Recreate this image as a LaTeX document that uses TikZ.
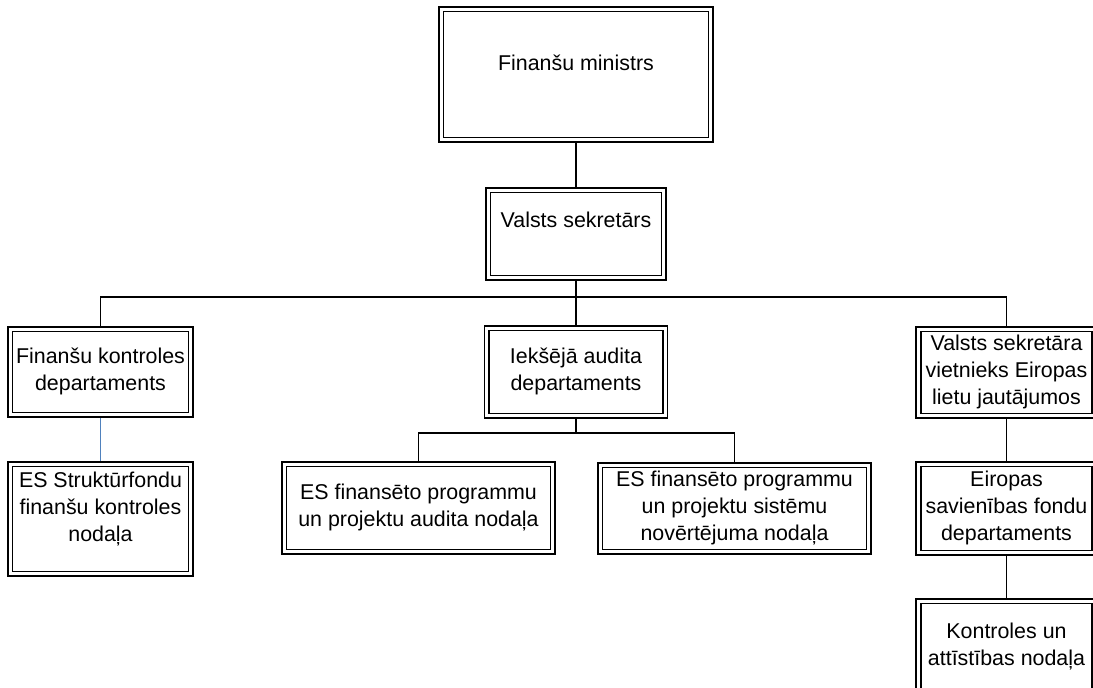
\documentclass[tikz,border=0pt]{standalone}
\usepackage{fontspec}
\setmainfont{Liberation Sans}
\usetikzlibrary{backgrounds}

\definecolor{linkblue}{RGB}{79,129,189}
\newcommand\boxfont{\fontsize{21.4}{27}\selectfont}
% box text: centred lines, optionally lifted towards the top of the box
\newcommand\boxtext[2][0pt]{\raisebox{#1}[\height][\depth]{\begin{tabular}{@{}c@{}}#2\end{tabular}}}

\tikzset{
  orgbox/.style 2 args={draw, double, double distance=2.8pt, line width=1.7pt,
    fill=white, inner sep=0pt, outer sep=0pt, font=\boxfont,
    minimum width=#1pt, minimum height=#2pt},
  conn/.style={draw=black, line width=1.6pt},
  blueconn/.style={draw=linkblue, line width=1.3pt}
}

\begin{document}
\begin{tikzpicture}[x=1pt, y=-1pt]
\useasboundingbox (0,0) rectangle (1093,688);

% top of the hierarchy
\node[orgbox={269.5}{130.5}] (min) at (576,74.5) {\boxtext[9pt]{Finanšu ministrs}};
\node[orgbox={175.5}{87.5}] (vs) at (576,234) {\boxtext[12pt]{Valsts sekretārs}};

% departments
\node[orgbox={180.5}{85.5}] (fkd) at (100.5,372) {\boxtext{Finanšu kontroles\\departaments}};
\node[orgbox={178.5}{87.5}] (iad) at (576,372) {\boxtext{Iekšējā audita\\departaments}};
\node[orgbox={176}{86.5}] (vsv) at (1006.5,372.5) {\boxtext{Valsts sekretāra\\vietnieks Eiropas\\lietu jautājumos}};

% units
\node[orgbox={180.5}{109.5}] (esf) at (100.5,519) {\boxtext[10pt]{ES Struktūrfondu\\finanšu kontroles\\nodaļa}};
\node[orgbox={268.5}{87.5}] (esa) at (418.5,508) {\boxtext{ES finansēto programmu\\un projektu audita nodaļa}};
\node[orgbox={268.5}{86.5}] (ess) at (734.5,508.5) {\boxtext{ES finansēto programmu\\un projektu sistēmu\\novērtējuma nodaļa}};
\node[orgbox={176}{88.5}] (esd) at (1006.5,508.5) {\boxtext{Eiropas\\savienības fondu\\departaments}};
\node[orgbox={176}{109.5}] (kon) at (1006.5,656) {\boxtext[9pt]{Kontroles un\\attīstības nodaļa}};

% connectors, kept behind the boxes
\coordinate (bus) at (576,297);
\coordinate (sub) at (576,433);
\begin{scope}[on background layer]
  \draw[conn] (min.south) -- (vs.north);
  \draw[conn] (vs.south) -- (bus);
  \draw[conn] (fkd.north) |- (bus) -| (vsv.north);
  \draw[conn] (bus) -- (iad.north);
  \draw[conn] (iad.south) -- (sub);
  \draw[conn] (esa.north) |- (sub) -| (ess.north);
  \draw[blueconn] (fkd.south) -- (esf.north);
  \draw[conn] (vsv.south) -- (esd.north);
  \draw[conn] (esd.south) -- (kon.north);
\end{scope}
\end{tikzpicture}
\end{document}
